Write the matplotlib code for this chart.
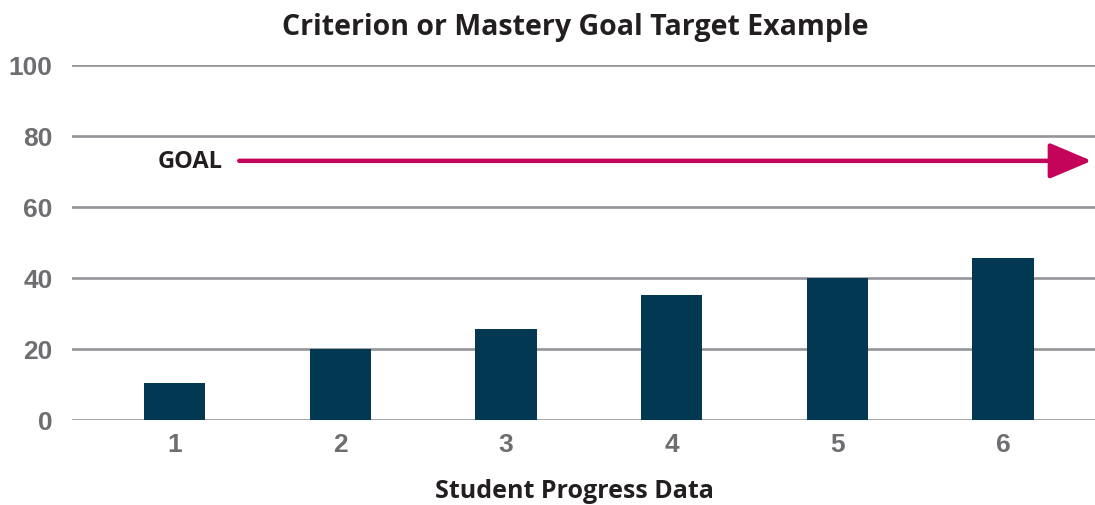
import matplotlib.pyplot as plt

# data
weeks = [1, 2, 3, 4, 5, 6]
scores = [10.5, 20, 25.5, 35.3, 40, 45.5]
goal = 73
yticks = [0, 20, 40, 60, 80, 100]

fig = plt.figure(figsize=(10.95, 5.06), dpi=100)
ax = fig.add_axes([0.0658, 0.168, 0.9342, 0.7016])

# grid lines
for t in yticks:
    ax.axhline(t, color='#939598', linewidth=1.9, zorder=1)

ax.bar(weeks, scores, width=0.37, color='#033853', zorder=2)

ax.set_xlim(0.381, 6.555)
ax.set_ylim(0, 100)

# goal arrow
ax.annotate('', xy=(6.535, goal), xytext=(1.39, goal),
            arrowprops=dict(arrowstyle='-|>,head_length=2.6,head_width=1.1',
                            color='#c4045a', lw=3.2, shrinkA=0, shrinkB=0),
            annotation_clip=False, zorder=3)
ax.text(1.29, goal, 'GOAL', ha='right', va='center', fontsize=17,
        fontweight='bold', family='Open Sans', color='#231f20')

for s in ax.spines.values():
    s.set_visible(False)
ax.tick_params(length=0)
ax.set_yticks(yticks)
ax.set_xticks(weeks)
ax.set_yticklabels([str(t) for t in yticks], fontsize=19, fontweight='bold',
                   family='Liberation Sans', color='#6d6e71')
ax.set_xticklabels([str(w) for w in weeks], fontsize=19, fontweight='bold',
                   family='Liberation Sans', color='#6d6e71')
ax.tick_params(axis='y', pad=14)
ax.tick_params(axis='x', pad=9)

fig.text(0.525, 0.028, 'Student Progress Data', ha='center', va='center',
         fontsize=18, fontweight='bold', family='Open Sans', color='#231f20')
fig.text(0.525, 0.945, 'Criterion or Mastery Goal Target Example', ha='center',
         va='center', fontsize=20.5, fontweight='bold', family='Open Sans',
         color='#231f20')

plt.savefig('out.png', dpi=100)
